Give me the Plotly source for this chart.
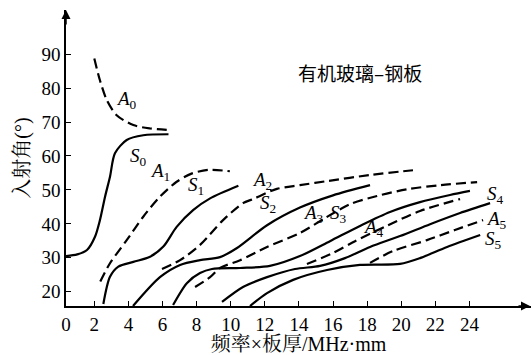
import plotly.graph_objects as go

# ---- data (x: 频率×板厚 MHz·mm, y: 入射角 °) ----
A0_x = [2.0, 2.33, 2.73, 3.31, 4.29, 5.27, 6.44]
A0_y = [88.7, 82.3, 76.5, 72.0, 69.1, 68.1, 67.6]
S0_x = [0.34, 1.0, 1.57, 2.04, 2.33, 2.63, 2.92, 3.21, 3.9, 4.87, 6.35]
S0_y = [30.5, 31.0, 32.3, 36.2, 41.1, 48.0, 53.9, 60.8, 64.7, 66.1, 66.4]
A1_x = [2.35, 2.92, 3.9, 4.87, 5.85, 6.83, 7.7, 8.7, 9.95]
A1_y = [23.0, 28.4, 35.2, 42.1, 48.0, 52.4, 54.8, 55.9, 55.5]
S1_x = [2.53, 2.92, 3.41, 4.29, 5.27, 6.05, 6.83, 7.81, 8.79, 10.45]
S1_y = [16.4, 24.4, 27.4, 28.8, 30.3, 33.3, 39.1, 44.1, 47.5, 51.2]
A2_x = [5.97, 7.03, 8.2, 9.55, 10.72, 11.31, 12.71, 14.06, 15.65, 18.17, 20.69]
A2_y = [26.7, 29.3, 33.8, 41.1, 46.1, 47.3, 50.3, 51.4, 52.6, 54.4, 55.8]
S2_x = [4.27, 5.85, 7.03, 8.2, 9.37, 10.37, 12.13, 14.06, 16.0, 18.17]
S2_y = [15.8, 24.3, 27.9, 29.3, 30.2, 32.9, 39.6, 44.8, 48.4, 51.4]
A3_x = [7.91, 8.79, 9.37, 10.55, 12.13, 14.06, 15.53, 17.0, 18.58, 20.34, 22.28, 24.45]
A3_y = [21.4, 24.3, 27.0, 29.3, 33.2, 37.3, 41.7, 45.8, 48.2, 50.2, 51.4, 52.3]
S3_x = [6.62, 7.44, 8.2, 8.9, 10.55, 12.3, 14.06, 15.82, 17.58, 19.34, 21.1, 22.86, 24.03]
S3_y = [16.1, 22.6, 25.5, 26.7, 27.0, 27.6, 30.5, 34.9, 39.4, 43.5, 46.4, 48.5, 49.7]
A4_x = [14.47, 16.0, 17.29, 19.23, 21.1, 23.45]
A4_y = [28.2, 31.4, 34.9, 39.6, 43.8, 47.3]
S4_x = [9.49, 10.72, 12.13, 13.77, 15.24, 16.7, 18.17, 19.93, 21.69, 23.45, 25.21]
S4_y = [17.0, 21.4, 24.3, 26.7, 27.6, 29.9, 33.2, 36.4, 39.9, 43.2, 46.1]
A5_x = [18.17, 19.52, 21.51, 23.15, 24.8]
A5_y = [28.5, 32.0, 35.2, 38.2, 41.1]
S5_x = [11.13, 12.13, 13.66, 15.65, 17.58, 19.93, 21.1, 22.69, 24.63]
S5_y = [15.8, 19.6, 23.5, 26.4, 27.9, 28.2, 29.9, 33.2, 36.7]

# curve labels: (mode letter, index, x, y)
label_modes = ["A", "S", "A", "S", "A", "S", "A", "S", "A", "S", "A", "S"]
label_idx = ["0", "0", "1", "1", "2", "2", "3", "3", "4", "4", "5", "5"]
label_x = [3.9, 4.57, 5.85, 7.97, 11.84, 12.2, 14.84, 16.3, 18.35, 25.5, 25.6, 25.4]
label_y = [76.5, 59.7, 55.3, 51.1, 52.6, 45.8, 42.8, 42.8, 38.8, 48.5, 41.1, 35.2]

x_ticks = [0, 2, 4, 6, 8, 10, 12, 14, 16, 18, 20, 22, 24]
y_ticks = [20, 30, 40, 50, 60, 70, 80, 90]
X_START = 0.34  # the drawn axis starts slightly right of the 2-unit grid

title_text = "有机玻璃–钢板"
x_title = "频率×板厚/MHz·mm"
y_title = "入射角(°)"

SERIF = "Liberation Serif, Noto Serif CJK SC, Noto Sans CJK SC, serif"
CJK = "Noto Sans CJK SC, Liberation Serif, serif"

fig = go.Figure()
curves = [
    (A0_x, A0_y, True), (S0_x, S0_y, False),
    (A1_x, A1_y, True), (S1_x, S1_y, False),
    (A2_x, A2_y, True), (S2_x, S2_y, False),
    (A3_x, A3_y, True), (S3_x, S3_y, False),
    (A4_x, A4_y, True), (S4_x, S4_y, False),
    (A5_x, A5_y, True), (S5_x, S5_y, False),
]
for xs, ys, dashed in curves:
    fig.add_trace(go.Scatter(
        x=xs, y=ys, mode="lines",
        line=dict(color="black", width=2.2, shape="spline", smoothing=0.8,
                  dash="10px,5px" if dashed else "solid"),
        hoverinfo="skip", showlegend=False))

for m, i, lx, ly in zip(label_modes, label_idx, label_x, label_y):
    fig.add_annotation(x=lx, y=ly, text=f"<i>{m}</i><sub>{i}</sub>", showarrow=False,
                       xanchor="center", yanchor="middle",
                       font=dict(family=SERIF, size=19, color="black"))

fig.add_annotation(x=0.632, y=0.79, xref="paper", yref="paper", text=title_text,
                   showarrow=False, xanchor="center", yanchor="middle",
                   font=dict(family=CJK, size=19, color="black"))

# axis arrows
fig.add_annotation(x=1.0, y=0, xref="paper", yref="paper", ax=-14, ay=0,
                   axref="pixel", ayref="pixel", text="", showarrow=True,
                   arrowhead=2, arrowsize=1.2, arrowwidth=1.5, arrowcolor="black")
fig.add_annotation(x=0, y=1.0, xref="paper", yref="paper", ax=0, ay=16,
                   text="", showarrow=True,
                   arrowhead=2, arrowsize=1.2, arrowwidth=1.5, arrowcolor="black")

tick_pos = [X_START if t == 0 else t for t in x_ticks]
fig.update_layout(
    width=531, height=355,
    margin=dict(l=66, r=0, t=10, b=49),
    paper_bgcolor="white", plot_bgcolor="white",
    xaxis=dict(range=[X_START, 27.61], showgrid=False, zeroline=False,
               showline=True, linecolor="black", linewidth=1.5,
               ticks="inside", ticklen=5, tickwidth=1.2, tickcolor="black",
               tickvals=tick_pos, ticktext=[str(t) for t in x_ticks],
               tickfont=dict(family=SERIF, size=19, color="black"),
               title=dict(text=x_title, font=dict(family=SERIF, size=20, color="black"),
                          standoff=3)),
    yaxis=dict(range=[15.8, 103], showgrid=False, zeroline=False,
               showline=True, linecolor="black", linewidth=1.5,
               ticks="inside", ticklen=5, tickwidth=1.2, tickcolor="black",
               tickvals=y_ticks,
               tickfont=dict(family=SERIF, size=19, color="black"),
               title=dict(text=y_title, font=dict(family=SERIF, size=20, color="black"),
                          standoff=6)),
)
fig.write_html("out.html")
